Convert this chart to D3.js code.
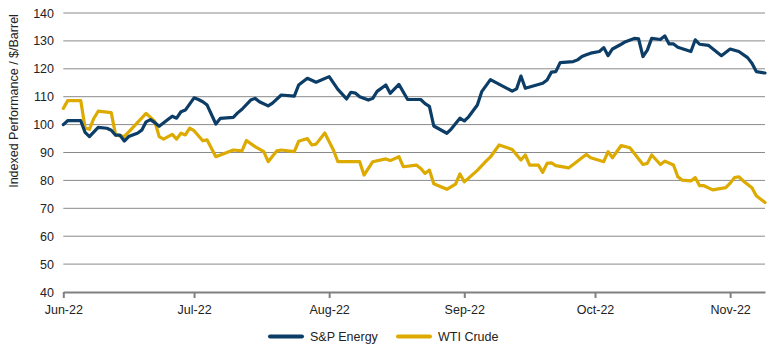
<!DOCTYPE html>
<html>
<head>
<meta charset="utf-8">
<script src="https://cdn.jsdelivr.net/npm/d3@7"></script>
<style>
  html, body { margin: 0; padding: 0; background: #ffffff; }
  svg { display: block; font-family: "Liberation Sans", Arial, sans-serif; }
</style>
</head>
<body>
<svg id="chart" width="770" height="348"></svg>
<script>
// S&P Energy index (rebased to 100) and WTI crude ($/barrel), Jun–Nov 2022
const spxDates = ["2022-06-01","2022-06-02","2022-06-05","2022-06-06","2022-06-07","2022-06-09","2022-06-11","2022-06-12","2022-06-13","2022-06-14","2022-06-15","2022-06-16","2022-06-18","2022-06-19","2022-06-20","2022-06-21","2022-06-22","2022-06-23","2022-06-25","2022-06-26","2022-06-27","2022-06-28","2022-06-29","2022-07-01","2022-07-02","2022-07-03","2022-07-04","2022-07-06","2022-07-07","2022-07-10","2022-07-11","2022-07-12","2022-07-14","2022-07-15","2022-07-16","2022-07-18","2022-07-19","2022-07-21","2022-07-24","2022-07-25","2022-07-27","2022-07-29","2022-08-01","2022-08-03","2022-08-05","2022-08-06","2022-08-07","2022-08-08","2022-08-10","2022-08-11","2022-08-12","2022-08-14","2022-08-15","2022-08-17","2022-08-19","2022-08-22","2022-08-23","2022-08-24","2022-08-25","2022-08-28","2022-08-29","2022-08-31","2022-09-01","2022-09-02","2022-09-04","2022-09-05","2022-09-07","2022-09-12","2022-09-13","2022-09-14","2022-09-15","2022-09-19","2022-09-20","2022-09-21","2022-09-22","2022-09-23","2022-09-26","2022-09-27","2022-09-28","2022-09-29","2022-09-30","2022-10-02","2022-10-03","2022-10-04","2022-10-05","2022-10-07","2022-10-08","2022-10-10","2022-10-11","2022-10-12","2022-10-13","2022-10-14","2022-10-16","2022-10-17","2022-10-18","2022-10-19","2022-10-20","2022-10-23","2022-10-24","2022-10-25","2022-10-27","2022-10-30","2022-11-01","2022-11-03","2022-11-05","2022-11-06","2022-11-07","2022-11-09"];
const spxValues = [100,101.4,101.4,97.2,95.7,99,98.7,98,96.2,96.2,94.1,95.7,96.9,98,101,101.8,100.7,99.4,101.8,103,102.3,104.6,105.2,109.6,109,108.2,107,100.2,102.2,102.6,104.2,105.5,108.8,109.4,108.2,106.7,107.7,110.6,110.2,114.2,116.6,115.2,117.2,112.6,109.2,111.6,111.3,110,108.8,109.4,111.9,114.2,111.2,114.4,109,109,107.5,106.5,99.5,96.9,98.4,102.3,101.3,102.8,107,111.8,116.1,112,112.8,117.4,113,114.8,116,118.8,119,122.2,122.6,123.2,124.4,125,125.6,126.2,127.6,124.7,127.1,128.8,129.7,130.9,130.7,124.4,126.7,130.9,130.5,131.8,128.9,128.9,127.7,126.2,130.4,128.8,128.4,124.7,127.1,126.2,124,122,119,118.5];

const wtiDates = ["2022-06-01","2022-06-02","2022-06-05","2022-06-06","2022-06-07","2022-06-08","2022-06-09","2022-06-12","2022-06-13","2022-06-15","2022-06-20","2022-06-22","2022-06-23","2022-06-24","2022-06-26","2022-06-27","2022-06-28","2022-06-29","2022-06-30","2022-07-01","2022-07-03","2022-07-04","2022-07-06","2022-07-10","2022-07-12","2022-07-13","2022-07-15","2022-07-17","2022-07-18","2022-07-20","2022-07-21","2022-07-24","2022-07-25","2022-07-27","2022-07-28","2022-07-29","2022-07-31","2022-08-02","2022-08-03","2022-08-08","2022-08-09","2022-08-11","2022-08-14","2022-08-15","2022-08-17","2022-08-18","2022-08-21","2022-08-22","2022-08-23","2022-08-24","2022-08-25","2022-08-28","2022-08-30","2022-08-31","2022-09-01","2022-09-02","2022-09-04","2022-09-06","2022-09-07","2022-09-09","2022-09-12","2022-09-14","2022-09-15","2022-09-16","2022-09-18","2022-09-19","2022-09-20","2022-09-21","2022-09-22","2022-09-25","2022-09-26","2022-09-28","2022-09-29","2022-09-30","2022-10-03","2022-10-04","2022-10-05","2022-10-07","2022-10-09","2022-10-12","2022-10-13","2022-10-14","2022-10-16","2022-10-17","2022-10-19","2022-10-20","2022-10-21","2022-10-23","2022-10-24","2022-10-25","2022-10-26","2022-10-28","2022-10-31","2022-11-01","2022-11-02","2022-11-03","2022-11-04","2022-11-06","2022-11-07","2022-11-09"];
const wtiValues = [105.8,108.6,108.6,98.8,98.3,102.2,104.8,104.3,96.3,95.7,104,101.1,95.7,94.8,96.5,94.8,96.9,96.3,98.7,97.8,94.2,94.5,88.5,90.9,90.6,94.3,92.1,90.3,86.7,90.6,90.9,90.3,94,95,92.7,93,97,90.8,86.7,86.7,81.9,86.7,87.7,87.1,88.5,84.9,85.5,84.3,82.5,83.7,78.8,76.8,78.7,82.3,79.5,80.8,83.6,86.9,88.4,92.7,91.1,87.3,89.1,85.5,85.5,82.9,86.1,86.3,85.3,84.5,85.7,88.1,89.3,88.1,86.7,90.3,88.1,92.5,91.7,85.7,86.1,89.1,85.7,86.9,85.5,81.3,80.1,79.8,81,78.1,78.1,76.6,77.4,79,81,81.3,79.8,77.4,74.5,72.1];

const monthTicks = ["2022-06-01","2022-07-01","2022-08-01","2022-09-01","2022-10-01","2022-11-01"];
const yTicks = [40,50,60,70,80,90,100,110,120,130,140];
const seriesNames = ["S&P Energy", "WTI Crude"];
const seriesColors = ["#0c3d66", "#ddaa00"];
const yTitle = "Indexed Performance / $/Barrel";

const parse = d3.utcParse("%Y-%m-%d");
const fmt = d3.utcFormat("%b-%y");

const svg = d3.select("#chart");
const plot = { left: 63.3, right: 765, top: 13, bottom: 292 };

const x = d3.scaleUtc()
  .domain([parse("2022-06-01"), parse("2022-11-09")])
  .range([plot.left, plot.right]);
const y = d3.scaleLinear().domain([40, 140]).range([plot.bottom, plot.top]);

// horizontal gridlines
svg.append("g")
  .selectAll("line")
  .data(yTicks.filter(v => v > 40))
  .join("line")
  .attr("x1", plot.left).attr("x2", plot.right)
  .attr("y1", d => y(d)).attr("y2", d => y(d))
  .attr("stroke", "#8a8a8a").attr("stroke-width", 1);

// y tick labels
svg.append("g")
  .selectAll("text")
  .data(yTicks)
  .join("text")
  .attr("x", 54).attr("y", d => y(d))
  .attr("dy", "0.36em")
  .attr("text-anchor", "end")
  .attr("font-size", 12.5)
  .attr("fill", "#222")
  .text(d => d);

// y title
svg.append("text")
  .attr("transform", "translate(18,101) rotate(-90)")
  .attr("text-anchor", "middle")
  .attr("font-size", 12.5)
  .attr("fill", "#222")
  .text(yTitle);

// x axis
const xAxis = d3.axisBottom(x)
  .tickValues(monthTicks.map(parse))
  .tickFormat(fmt)
  .tickSize(6)
  .tickSizeOuter(0);
const gx = svg.append("g").attr("transform", `translate(0,${plot.bottom})`).call(xAxis);
gx.select(".domain").attr("stroke", "#808080").attr("stroke-width", 2);
gx.selectAll(".tick line").attr("stroke", "#808080").attr("stroke-width", 2);
gx.selectAll(".tick text")
  .attr("font-size", 12.5)
  .attr("font-family", "Liberation Sans, Arial, sans-serif")
  .attr("fill", "#222")
  .attr("y", 13);

// series lines
const series = [
  { dates: spxDates, values: spxValues },
  { dates: wtiDates, values: wtiValues }
];
const line = d3.line()
  .x(d => x(d[0]))
  .y(d => y(d[1]));

// gold first so the navy line sits on top where they cross
[1, 0].forEach(i => {
  const s = series[i];
  const pts = s.dates.map((d, k) => [parse(d), s.values[k]]);
  svg.append("path")
    .datum(pts)
    .attr("fill", "none")
    .attr("stroke", seriesColors[i])
    .attr("stroke-width", 3.2)
    .attr("stroke-linejoin", "round")
    .attr("stroke-linecap", "round")
    .attr("d", line);
});

// legend
const legendItems = [
  { x0: 270, tx: 310 },
  { x0: 398, tx: 438 }
];
const lg = svg.append("g");
legendItems.forEach((it, i) => {
  lg.append("line")
    .attr("x1", it.x0).attr("x2", it.x0 + 32)
    .attr("y1", 336.5).attr("y2", 336.5)
    .attr("stroke", seriesColors[i]).attr("stroke-width", 4)
    .attr("stroke-linecap", "round");
  lg.append("text")
    .attr("x", it.tx).attr("y", 341)
    .attr("font-size", 12.5)
    .attr("fill", "#222")
    .text(seriesNames[i]);
});
</script>
</body>
</html>
